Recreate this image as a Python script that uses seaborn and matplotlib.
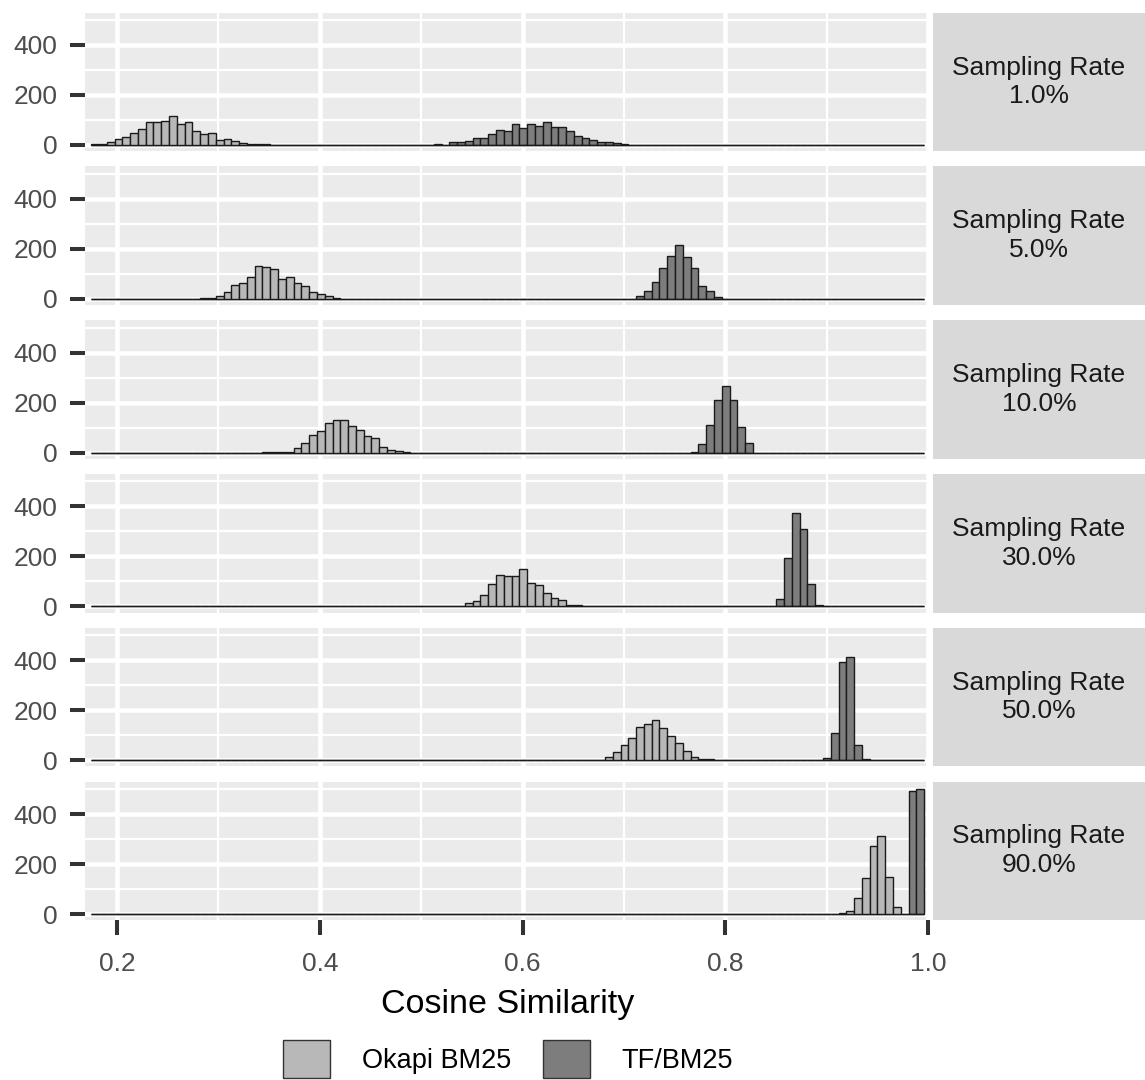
import matplotlib
matplotlib.use("Agg")
import matplotlib.pyplot as plt
from matplotlib.patches import Patch
import numpy as np
import pandas as pd
import seaborn as sns

plt.rcParams['font.family'] = ['Liberation Sans', 'DejaVu Sans']

# Shared histogram bins (same for every facet)
BIN_START = 0.1745
BIN_WIDTH = 0.00768
N_BINS = 107

RATES = ["1.0%", "5.0%", "10.0%", "30.0%", "50.0%", "90.0%"]
METHODS = ["Okapi BM25", "TF/BM25"]

# first bin index of each series, then the bar counts
okapi_start = [0, 14, 22, 46, 63, 96]
okapi_counts = [
    [3, 5, 12, 25, 32, 47, 64, 93, 93, 96, 115, 85, 91, 57, 43, 49, 20, 25, 16, 9, 5, 4, 3, 2, 2, 1, 1, 1, 1],
    [2, 5, 12, 28, 57, 64, 87, 131, 129, 120, 80, 89, 64, 52, 29, 21, 11, 4, 1, 0, 1],
    [1, 1, 2, 4, 20, 37, 71, 87, 117, 132, 132, 105, 91, 67, 57, 21, 9, 5, 4],
    [1, 3, 15, 23, 44, 91, 125, 123, 123, 149, 93, 84, 53, 35, 24, 4, 7, 1],
    [1, 1, 2, 12, 33, 61, 88, 133, 143, 160, 127, 96, 68, 37, 12, 5, 3],
    [3, 13, 64, 144, 273, 313, 149, 29],
]
tf_start = [43, 70, 77, 87, 94, 105]
tf_counts = [
    [2, 3, 1, 11, 11, 17, 29, 29, 43, 59, 56, 83, 67, 83, 76, 91, 73, 73, 55, 35, 29, 19, 12, 12, 7, 4, 2, 1, 1, 1, 1, 1, 1],
    [13, 33, 67, 124, 173, 215, 169, 124, 51, 33, 9, 0, 0, 1],
    [4, 35, 112, 211, 265, 211, 101, 37],
    [3, 31, 192, 375, 308, 91, 7],
    [7, 107, 393, 413, 60, 3],
    [491, 500],
]

COLORS = {"Okapi BM25": "#B8B8B8", "TF/BM25": "#7D7D7D"}

edges = [BIN_START + BIN_WIDTH * k for k in range(N_BINS + 1)]

rows = []
for i, rate in enumerate(RATES):
    for method, starts, counts in [("Okapi BM25", okapi_start, okapi_counts),
                                   ("TF/BM25", tf_start, tf_counts)]:
        for k, c in enumerate(counts[i]):
            j = starts[i] + k
            rows.append({"rate": rate, "method": method,
                         "center": edges[j] + BIN_WIDTH / 2, "count": c})
df = pd.DataFrame(rows)

W, H = 1145, 1080
fig = plt.figure(figsize=(W / 100, H / 100), dpi=100)

panel_h = 138.75
for i, rate in enumerate(RATES):
    top = 12.5 + 153.8 * i
    rect_y = 1 - (top + panel_h) / H
    ax = fig.add_axes([85 / W, rect_y, 845 / W, panel_h / H])
    sub = df[df["rate"] == rate]
    sns.histplot(data=sub, x="center", weights="count", hue="method",
                 hue_order=METHODS, palette=COLORS, bins=edges, alpha=1,
                 edgecolor="#1a1a1a", linewidth=1.0, legend=False, ax=ax)
    ax.set_xlim(0.1684, 1.002)
    ax.set_ylim(-25, 530)
    ax.set_facecolor("#EBEBEB")
    ax.set_xticks([0.2, 0.4, 0.6, 0.8, 1.0])
    ax.set_xticks([0.3, 0.5, 0.7, 0.9], minor=True)
    ax.set_yticks([0, 200, 400])
    ax.set_yticks([100, 300, 500], minor=True)
    ax.grid(which="major", color="white", linewidth=3.3)
    ax.grid(which="minor", color="white", linewidth=1.6)
    ax.set_axisbelow(True)
    for s in ax.spines.values():
        s.set_visible(False)
    ax.set_xlabel("")
    ax.set_ylabel("")
    ax.tick_params(which="minor", length=0)
    ax.tick_params(axis="y", which="major", length=11, width=2.9, color="#333333",
                   labelsize=19, labelcolor="#4D4D4D", pad=9)
    if i == len(RATES) - 1:
        ax.set_xticklabels(["0.2", "0.4", "0.6", "0.8", "1.0"])
        ax.tick_params(axis="x", which="major", length=11, width=2.9, color="#333333",
                       labelsize=19, labelcolor="#4D4D4D", pad=12)
    else:
        ax.tick_params(axis="x", which="major", length=0, labelbottom=False)

    # facet strip on the right
    sax = fig.add_axes([933 / W, rect_y, 212 / W, panel_h / H])
    sax.set_facecolor("#D9D9D9")
    sax.set_xticks([])
    sax.set_yticks([])
    for s in sax.spines.values():
        s.set_visible(False)
    sax.text(0.5, 0.5, "Sampling Rate\n" + rate, ha="center", va="center",
             fontsize=19, color="#1A1A1A", linespacing=1.25, transform=sax.transAxes)

fig.text(507.5 / W, 1 - 1004 / H, "Cosine Similarity", ha="center", va="center",
         fontsize=24.5, color="black")

handles = [Patch(facecolor=COLORS[m], edgecolor="#333333", linewidth=1) for m in METHODS]
fig.legend(handles, METHODS, ncol=2, loc="center left",
           bbox_to_anchor=(283 / W, 1 - 1059 / H), frameon=False, fontsize=19.5,
           borderpad=0, borderaxespad=0, handlelength=1.73, handleheight=1.73,
           handletextpad=1.18, columnspacing=1.18)

fig.savefig("out.png", dpi=100)
